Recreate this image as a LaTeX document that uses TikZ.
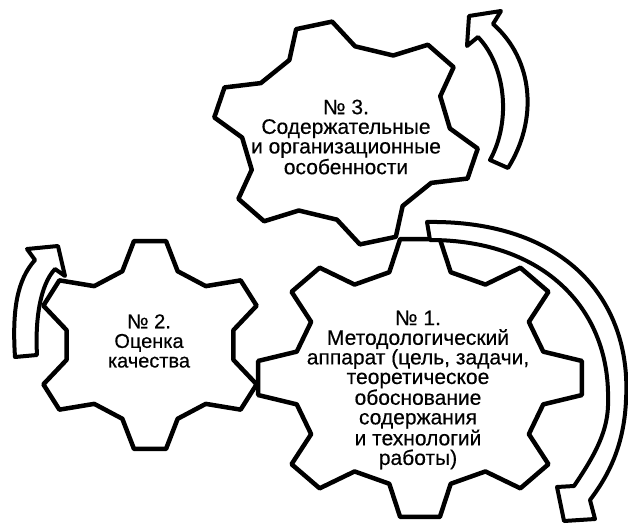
\documentclass[tikz,border=0pt]{standalone}
\usepackage{fontspec}
\setmainfont[FakeBold=0.4]{Liberation Sans}
\begin{document}
\begin{tikzpicture}[x=1pt,y=1pt]
\tikzstyle{every node}+=[inner sep=0pt]
\tikzstyle{gearline}=[black, line width=4.5pt, line join=round, fill=white]
\tikzstyle{turnarrow}=[black, line width=4pt, line join=round, fill=white]
\tikzstyle{gearlabel}=[align=center, font=\fontsize{21}{19.6}\selectfont]
\useasboundingbox (0,0) rectangle (628,-526);
\begin{scope}[shift={(346,-133)}]
\draw [gearline] (85:104 and 87) \foreach \a in {104,164,...,404} {-- ({\a-19}:104 and 87) -- ({\a-8}:133 and 112) -- ({\a+8}:133 and 112) -- ({\a+19}:104 and 87)} -- cycle;
\end{scope}
\begin{scope}[shift={(150,-345)}]
\draw [gearline] (71:85 and 78) \foreach \a in {90,150,...,390} {-- ({\a-19}:85 and 78) -- ({\a-8}:115 and 105) -- ({\a+8}:115 and 105) -- ({\a+19}:85 and 78)} -- cycle;
\end{scope}
\begin{scope}[shift={(420,-378)}]
\draw [gearline] (76:127 and 109) \foreach \a in {90,135,...,405} {-- ({\a-14}:127 and 109) -- ({\a-7}:163 and 140) -- ({\a+7}:163 and 140) -- ({\a+14}:127 and 109)} -- cycle;
\end{scope}
\draw [turnarrow] (427,-222) .. controls (565,-220) and (632,-300) .. (626,-400) .. controls (624,-450) and (605,-480) .. (590,-500) -- (595,-519) -- (564,-521) -- (557,-487) -- (574,-486) .. controls (595,-455) and (609,-430) .. (608,-400) .. controls (610,-310) and (545,-240) .. (430,-240) -- cycle;
\draw [turnarrow] (490,-160) -- (508,-168) .. controls (538,-120) and (534,-60) .. (493,-24) -- (501,-11) -- (469,-16) -- (467,-46) -- (478,-37) .. controls (505,-65) and (512,-120) .. (490,-160) -- cycle;
\draw [turnarrow] (15,-357) .. controls (12,-310) and (17,-280) .. (35,-260) -- (27,-249) -- (58,-246) -- (65,-276) -- (55,-269) .. controls (40,-285) and (35,-320) .. (37,-355) -- cycle;
\node [gearlabel] (g3) at (346,-137) {№ 3.\\Содержательные\\и организационные\\особенности};
\node [gearlabel, font=\fontsize{20}{19.6}\selectfont] (g2) at (149,-341) {№ 2.\\Оценка\\качества};
\node [gearlabel] (g1) at (418,-390) {№ 1.\\Методологический\\аппарат (цель, задачи,\\теоретическое\\обоснование\\содержания\\и технологий\\работы)};
\end{tikzpicture}
\end{document}
